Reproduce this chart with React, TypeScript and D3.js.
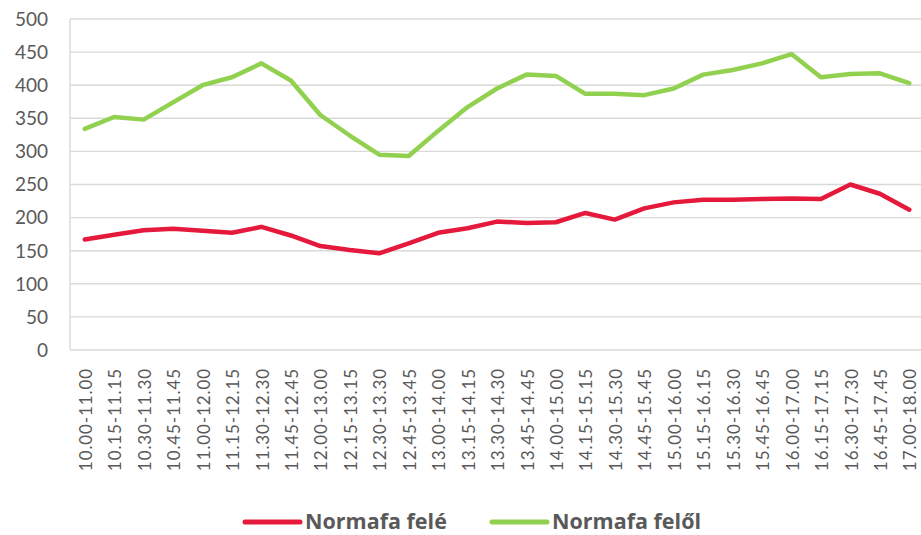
import React, { useRef, useEffect } from 'react';
import * as d3 from 'd3';

const categories = [
  '10.00-11.00', '10.15-11.15', '10.30-11.30', '10.45-11.45', '11.00-12.00',
  '11.15-12.15', '11.30-12.30', '11.45-12.45', '12.00-13.00', '12.15-13.15',
  '12.30-13.30', '12.45-13.45', '13.00-14.00', '13.15-14.15', '13.30-14.30',
  '13.45-14.45', '14.00-15.00', '14.15-15.15', '14.30-15.30', '14.45-15.45',
  '15.00-16.00', '15.15-16.15', '15.30-16.30', '15.45-16.45', '16.00-17.00',
  '16.15-17.15', '16.30-17.30', '16.45-17.45', '17.00-18.00',
];

// Normafa felé (red)
const feleValues = [
  167, 174, 181, 183, 180, 177, 186, 173, 157, 151, 146, 161, 177, 184, 194,
  192, 193, 207, 197, 214, 223, 227, 227, 228, 229, 228, 250, 236, 212,
];

// Normafa felől (green)
const feloValues = [
  334, 352, 348, 374, 400, 412, 433, 407, 355, 324, 295, 293, 331, 367, 395,
  416, 414, 387, 387, 385, 395, 416, 423, 433, 447, 412, 417, 418, 403,
];

const yTicks = [0, 50, 100, 150, 200, 250, 300, 350, 400, 450, 500];

const seriesNames = ['Normafa felé', 'Normafa felől'];
const seriesColors = ['#E5193B', '#92D050'];

const width = 921;
const height = 535;

const App = () => {
  const svgRef = useRef<SVGSVGElement>(null);

  useEffect(() => {
    const svg = d3.select(svgRef.current);
    svg.selectAll('*').remove();

    const margin = { top: 19, right: -3, bottom: 185, left: 70 };
    const innerW = width - margin.left - margin.right;
    const innerH = height - margin.top - margin.bottom;

    const x = d3.scaleBand().domain(categories).range([0, innerW]);
    const y = d3.scaleLinear().domain([0, 500]).range([innerH, 0]);

    const g = svg.append('g').attr('transform', `translate(${margin.left},${margin.top})`);

    // grid
    g.selectAll('.grid')
      .data(yTicks)
      .enter()
      .append('line')
      .attr('x1', 0)
      .attr('x2', innerW)
      .attr('y1', d => y(d))
      .attr('y2', d => y(d))
      .attr('stroke', '#D9D9D9')
      .attr('stroke-width', 1.4);

    g.append('line')
      .attr('x1', 0)
      .attr('x2', 0)
      .attr('y1', 0)
      .attr('y2', innerH)
      .attr('stroke', '#D9D9D9')
      .attr('stroke-width', 1.4);

    // y labels
    g.selectAll('.ylab')
      .data(yTicks)
      .enter()
      .append('text')
      .attr('x', -22)
      .attr('y', d => y(d))
      .attr('dy', '0.36em')
      .attr('text-anchor', 'end')
      .attr('font-family', 'Lato, sans-serif')
      .attr('font-size', 19)
      .attr('fill', '#595959')
      .text(d => d);

    // x labels
    g.selectAll('.xlab')
      .data(categories)
      .enter()
      .append('text')
      .attr('transform', d => `translate(${(x(d) as number) + x.bandwidth() / 2 + 1},${innerH + 18}) rotate(-90)`)
      .attr('dy', '0.36em')
      .attr('text-anchor', 'end')
      .attr('font-family', 'Lato, sans-serif')
      .attr('font-size', 17)
      .attr('letter-spacing', 0.9)
      .attr('fill', '#595959')
      .text(d => d);

    const line = d3
      .line<number>()
      .x((d, i) => (x(categories[i]) as number) + x.bandwidth() / 2)
      .y(d => y(d));

    [feleValues, feloValues].forEach((vals, i) => {
      g.append('path')
        .datum(vals)
        .attr('fill', 'none')
        .attr('stroke', seriesColors[i])
        .attr('stroke-width', 4.5)
        .attr('stroke-linejoin', 'round')
        .attr('stroke-linecap', 'round')
        .attr('d', line);
    });

    // legend
    const legendX = [245, 492];
    seriesNames.forEach((name, i) => {
      const lg = svg.append('g').attr('transform', `translate(${legendX[i]},522)`);
      lg.append('line')
        .attr('x1', 0)
        .attr('x2', 55)
        .attr('stroke', seriesColors[i])
        .attr('stroke-width', 5)
        .attr('stroke-linecap', 'round');
      lg.append('text')
        .attr('x', 60)
        .attr('y', 6.5)
        .attr('font-family', '"Open Sans", sans-serif')
        .attr('font-weight', 'bold')
        .attr('font-size', 21.5)
        .attr('fill', '#595959')
        .text(name);
    });
  }, []);

  return (
    <svg
      ref={svgRef}
      width={width}
      height={height}
      style={{ position: 'absolute', left: 0, top: 0, background: '#fff' }}
    />
  );
};

export default App;
